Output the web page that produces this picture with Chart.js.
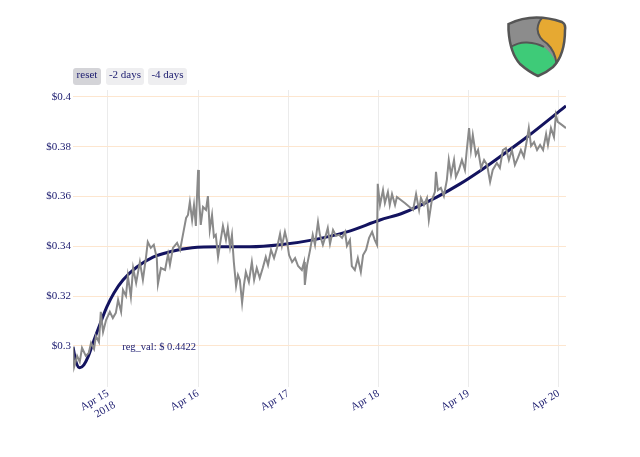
<!DOCTYPE html>
<html>
<head>
<meta charset="utf-8">
<script src="https://cdn.jsdelivr.net/npm/chart.js@4/dist/chart.umd.min.js"></script>
<style>
  body { margin: 0; background: #fff; }
  #wrap { position: relative; width: 640px; height: 457px; }
  .btn {
    position: absolute; top: 68px; height: 17px; line-height: 19px;
    font: 11px "Liberation Serif", "Times New Roman", serif; color: #1a1a6e;
    background: #eeeef0; border-radius: 3px; text-align: center;
  }
  #logo { position: absolute; left: 507px; top: 15px; }
</style>
</head>
<body>
<div id="wrap">
  <canvas id="priceChart" width="640" height="457"></canvas>
  <div class="btn" style="left:73px;width:28px;background:#d4d4d8;">reset</div>
  <div class="btn" style="left:106px;width:38px;">-2 days</div>
  <div class="btn" style="left:148px;width:39px;">-4 days</div>
  <svg id="logo" width="62" height="64" viewBox="0 0 62 64">
    <path d="M1.5,9 Q26,-3 55,7 Q59,9 58,15 Q58,40 46,52 Q39,58 31,61 Q22,57 13,49 Q3,38 1.5,15 Z" fill="#8c8c8c"/>
    <path d="M35.5,2.5 L55,7 Q59,9 58,15 Q58,38 49.5,48.5 Q48,36 40,28.5 Q31,23 30.5,14 Q31,7 35.5,2.5 Z" fill="#e6a932"/>
    <path d="M3.5,32 Q12,27 20,27.5 Q30,28 37,32 Q45,38 49.5,48.5 Q40,57 31,61 Q22,57 13,49 Q6,42 3.5,32 Z" fill="#3ecb78"/>
    <path d="M35.5,2.5 Q31,7 30.5,14 Q31,23 40,28.5 Q48,36 49.5,48.5" fill="none" stroke="#555" stroke-width="2"/>
    <path d="M3.5,32 Q12,27 20,27.5 Q30,28 37,32" fill="none" stroke="#555" stroke-width="2"/>
    <path d="M1.5,9 Q26,-3 55,7 Q59,9 58,15 Q58,40 46,52 Q39,58 31,61 Q22,57 13,49 Q3,38 1.5,15 Z" fill="none" stroke="#555" stroke-width="2.5"/>
  </svg>
</div>
<script>
// hours since Apr 15 2018 00:00, and price in USD
const priceHours = [-9.3, -9.0, -8.2, -7.5, -6.9, -5.9, -5.1, -4.5, -3.7, -3.2, -2.4, -1.9, -1.3, -0.5, 0.5, 1.3, 2.1, 2.7, 3.5, 4.0,
  4.8, 5.3, 6.1, 6.7, 7.5, 8.5, 9.3, 10.1, 10.6, 11.4, 12.2, 13.0, 13.3, 14.1, 15.2, 16.0, 16.5, 17.3, 18.4, 19.2,
  19.7, 20.2, 20.8, 21.3, 21.8, 22.4, 22.9, 23.4, 23.7, 24.0, 24.2, 24.7, 25.3, 26.1, 26.6, 27.1, 27.7, 28.2, 28.7, 29.3,
  29.8, 30.6, 31.4, 31.9, 32.5, 33.0, 33.5, 34.1, 34.6, 35.1, 35.7, 36.2, 36.7, 37.5, 38.3, 38.9, 39.6, 40.4, 41.2, 42.0,
  42.6, 43.4, 44.2, 45.0, 45.8, 46.3, 47.1, 47.6, 48.2, 49.0, 49.8, 50.6, 51.6, 52.2, 52.4, 53.0, 53.8, 54.5, 55.1, 55.9,
  56.4, 57.2, 58.0, 58.5, 59.1, 59.9, 60.7, 61.5, 62.3, 63.1, 63.6, 64.4, 64.9, 65.7, 66.5, 67.3, 67.9, 68.7, 69.5, 70.3,
  71.0, 71.6, 71.8, 72.4, 73.2, 73.7, 74.5, 75.0, 75.6, 76.4, 76.9, 79.0, 81.2, 82.0, 82.8, 83.3, 84.1, 84.9, 85.4, 86.2,
  87.0, 87.3, 87.8, 88.6, 89.4, 90.2, 90.7, 91.3, 92.1, 92.6, 93.4, 94.2, 95.0, 95.5, 96.1, 96.6, 97.1, 97.9, 98.5, 99.3,
  100.1, 100.9, 101.7, 102.4, 103.5, 104.3, 105.1, 105.9, 106.7, 107.5, 108.3, 109.1, 109.9, 110.7, 111.5, 112.0, 112.6, 113.4, 114.2, 115.0,
  115.8, 116.6, 117.1, 117.9, 118.7, 119.2, 119.7, 120.8, 121.9];
const priceValues = [0.2996, 0.2916, 0.2960, 0.2936, 0.2992, 0.2960, 0.2972, 0.3012, 0.2988, 0.3040, 0.3016, 0.3137, 0.3056, 0.3104, 0.3137, 0.3112, 0.3133, 0.3185, 0.3137, 0.3225,
  0.3201, 0.3281, 0.3197, 0.3313, 0.3253, 0.3337, 0.3265, 0.3353, 0.3418, 0.3394, 0.3406, 0.3353, 0.3249, 0.3313, 0.3305, 0.3369, 0.3325, 0.3394, 0.3414, 0.3386,
  0.3426, 0.3466, 0.3514, 0.3526, 0.3578, 0.3506, 0.3566, 0.3482, 0.3602, 0.3707, 0.3606, 0.3486, 0.3558, 0.3546, 0.3602, 0.3466, 0.3526, 0.3438, 0.3446, 0.3357,
  0.3406, 0.3482, 0.3426, 0.3474, 0.3398, 0.3446, 0.3337, 0.3241, 0.3285, 0.3265, 0.3173, 0.3245, 0.3297, 0.3257, 0.3337, 0.3265, 0.3313, 0.3273, 0.3313, 0.3357,
  0.3325, 0.3386, 0.3353, 0.3394, 0.3450, 0.3402, 0.3458, 0.3426, 0.3365, 0.3337, 0.3353, 0.3321, 0.3305, 0.3337, 0.3245, 0.3325, 0.3386, 0.3446, 0.3406, 0.3498,
  0.3446, 0.3406, 0.3446, 0.3474, 0.3410, 0.3466, 0.3442, 0.3446, 0.3434, 0.3458, 0.3402, 0.3426, 0.3321, 0.3305, 0.3353, 0.3297, 0.3365, 0.3386, 0.3434, 0.3458,
  0.3426, 0.3406, 0.3651, 0.3566, 0.3626, 0.3574, 0.3618, 0.3566, 0.3610, 0.3566, 0.3598, 0.3574, 0.3546, 0.3610, 0.3546, 0.3594, 0.3566, 0.3594, 0.3506, 0.3586,
  0.3618, 0.3699, 0.3626, 0.3635, 0.3602, 0.3667, 0.3747, 0.3687, 0.3747, 0.3679, 0.3707, 0.3747, 0.3707, 0.3787, 0.3875, 0.3787, 0.3847, 0.3767, 0.3787, 0.3715,
  0.3747, 0.3727, 0.3659, 0.3707, 0.3735, 0.3715, 0.3787, 0.3795, 0.3747, 0.3787, 0.3727, 0.3755, 0.3787, 0.3759, 0.3827, 0.3875, 0.3803, 0.3819, 0.3787, 0.3807,
  0.3787, 0.3851, 0.3807, 0.3875, 0.3839, 0.3928, 0.3900, 0.3888, 0.3875];

// fitted regression curve
const regHours = [-9.3, -8.5, -7.5, -6.4, -5.3, -3.7, -2.1, -0.3, 1.6, 4.0, 7.7, 12.0, 16.5, 22.4, 29.8, 37.8, 45.8, 54.6, 63.6, 72.4,
  78.5, 87.5, 93.7, 99.0, 102.4, 111.5, 121.9];
const regValues = [0.2996, 0.2936, 0.2912, 0.2924, 0.2956, 0.3024, 0.3088, 0.3157, 0.3213, 0.3265, 0.3317, 0.3357, 0.3378, 0.3394, 0.3398, 0.3398, 0.3406, 0.3426, 0.3458, 0.3506,
  0.3534, 0.3598, 0.3651, 0.3703, 0.3739, 0.3839, 0.3964];

const tickHours = [0, 24, 48, 72, 96, 120];
const tickLabels = [["Apr 15", "2018"], "Apr 16", "Apr 17", "Apr 18", "Apr 19", "Apr 20"];
const yTicks = [0.3, 0.32, 0.34, 0.36, 0.38, 0.4];
const regLabel = "reg_val: $ 0.4422";

const navy = "#1a1a6e";
const serif = "'Liberation Serif', 'Times New Roman', serif";

const annotation = {
    id: "annotation",
    afterDatasetsDraw(chart) {
        const ctx = chart.ctx;
        const x = chart.scales.x.getPixelForValue(13.6);
        const y = chart.scales.y.getPixelForValue(0.2996);
        ctx.save();
        ctx.font = "10.5px " + serif;
        ctx.fillStyle = navy;
        ctx.textAlign = "center";
        ctx.textBaseline = "middle";
        ctx.fillText(regLabel, x, y);
        ctx.restore();
    }
};

new Chart(document.getElementById("priceChart"), {
    type: "line",
    data: {
        datasets: [
            {
                label: "price",
                data: priceHours.map((h, i) => ({ x: h, y: priceValues[i] })),
                borderColor: "#8a8a8a",
                borderWidth: 2,
                pointRadius: 0,
                tension: 0
            },
            {
                label: "regression",
                data: regHours.map((h, i) => ({ x: h, y: regValues[i] })),
                borderColor: "#13135f",
                borderWidth: 3,
                pointRadius: 0,
                cubicInterpolationMode: "monotone"
            }
        ]
    },
    options: {
        responsive: false,
        animation: false,
        layout: { padding: { top: 90, right: 74, left: 0, bottom: 0 } },
        plugins: { legend: { display: false }, tooltip: { enabled: false } },
        scales: {
            x: {
                type: "linear",
                min: -9.3,
                max: 121.9,
                afterBuildTicks: (scale) => { scale.ticks = tickHours.map((v) => ({ value: v })); },
                afterFit: (scale) => { scale.height = 70; },
                grid: { color: "#ebebeb", drawTicks: false },
                border: { display: false },
                ticks: {
                    autoSkip: false,
                    minRotation: 30,
                    maxRotation: 30,
                    padding: 0,
                    color: navy,
                    font: { family: serif, size: 11 },
                    callback: (v) => tickLabels[tickHours.indexOf(v)]
                }
            },
            y: {
                min: 0.2835,
                max: 0.4028,
                afterBuildTicks: (scale) => { scale.ticks = yTicks.map((v) => ({ value: v })); },
                afterFit: (scale) => { scale.width = 73; },
                grid: { color: "#fde6cf", drawTicks: false },
                border: { display: false },
                ticks: {
                    padding: 2,
                    color: navy,
                    font: { family: serif, size: 11 },
                    callback: (v) => "$" + Number(v.toFixed(2))
                }
            }
        }
    },
    plugins: [annotation]
});
</script>
</body>
</html>
